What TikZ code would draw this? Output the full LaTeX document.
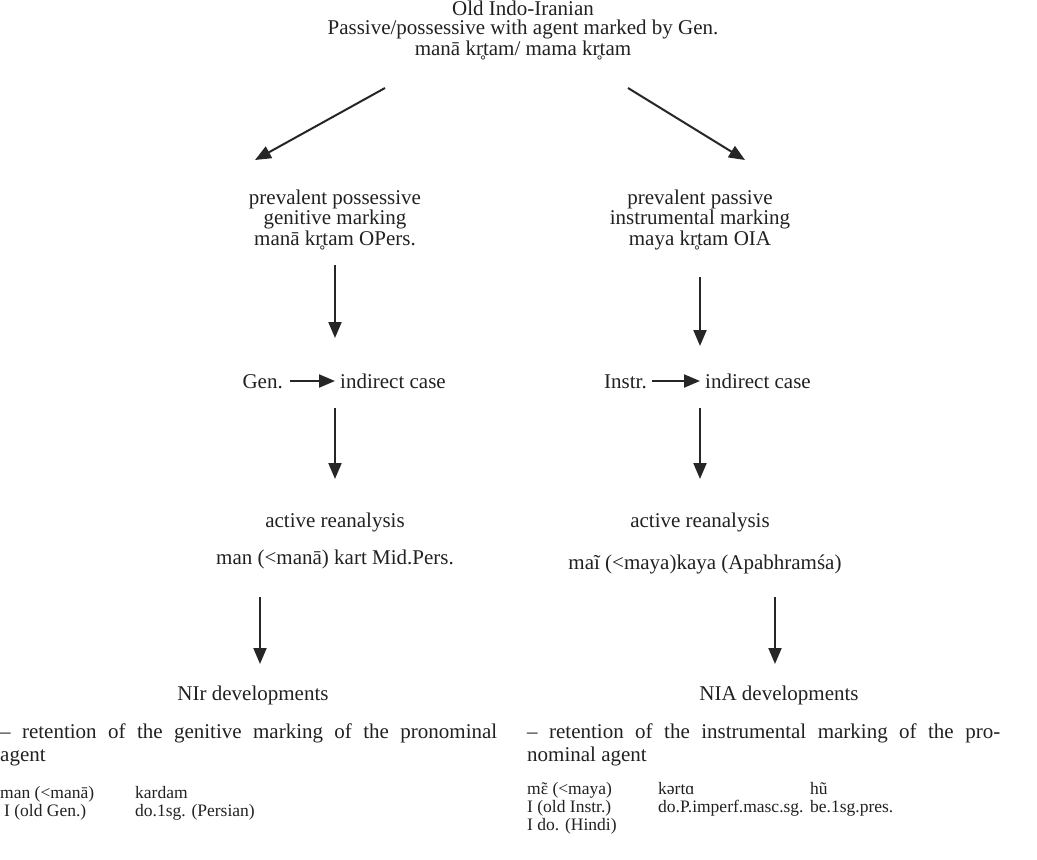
\documentclass[tikz,border=0pt]{standalone}
\usepackage{fontspec}
\setmainfont{Liberation Serif}
\usetikzlibrary{arrows.meta}
\newcommand\etilde{\leavevmode\setbox0\hbox{ɛ}\rlap{ɛ}\hbox to \wd0{\hss\raisebox{-0.5pt}{˜}\hss}}
\begin{document}
\begin{tikzpicture}[x=1pt,y=-1pt,
  txt/.style={font=\fontsize{21}{19}\selectfont, inner sep=0pt, align=center, text=black!87},
  ltxt/.style={font=\fontsize{21}{23}\selectfont, inner sep=0pt, align=left, anchor=base west, text=black!87},
  sm/.style={font=\fontsize{17.5}{17}\selectfont, inner sep=0pt, anchor=base west, text=black!87},
  arr/.style={-{Triangle[length=16pt,width=13pt]}, line width=2pt, draw=black!85}]
\useasboundingbox (0,0) rectangle (1037,860);
% top
\node[txt, anchor=base] (top) at (523,55) {Old Indo-Iranian\\Passive/possessive with agent marked by Gen.\\manā kr̥tam/ mama kr̥tam};
\node[txt, anchor=base] (pp) at (335,245) {prevalent possessive\\genitive marking\\manā kr̥tam OPers.};
\node[txt, anchor=base] (pa) at (700,245) {prevalent passive\\instrumental marking\\maya kr̥tam OIA};
% indirect case rows
\node[txt, anchor=base west] (ic1) at (340,388) {indirect case};
\node[txt, anchor=base east] (gen) at (283,388) {Gen.};
\node[txt, anchor=base west] (ic2) at (705,388) {indirect case};
\node[txt, anchor=base east] (instr) at (647,388) {Instr.};
% reanalysis
\node[txt, anchor=base] (ar1) at (335,527) {active reanalysis};
\node[txt, anchor=base] (ex1) at (335,564) {man (<manā) kart Mid.Pers.};
\node[txt, anchor=base] (ar2) at (700,527) {active reanalysis};
\node[txt, anchor=base] (ex2) at (705,569) {maĩ (<maya)kaya (Apabhramśa)};
% developments
\node[txt, anchor=base] (nir) at (253,700) {NIr developments};
\node[txt, anchor=base] (nia) at (779,700) {NIA developments};
\node[ltxt] (retL) at (0,761) {\makebox[497pt][s]{– retention of the genitive marking of the pronominal}\\agent};
\node[ltxt] (retR) at (527,761) {\makebox[473pt][s]{– retention of the instrumental marking of the pro-}\\nominal agent};
% examples left
\node[sm] (l11) at (0,798) {man (<manā)};
\node[sm] (l12) at (135,798) {kardam};
\node[sm] (l21) at (4,816) {I (old Gen.)};
\node[sm] (l22) at (135,816) {do.1sg. (Persian)};
% examples right
\node[sm] (r11) at (527,794) {m\etilde{} (<maya)};
\node[sm] (r12) at (658,794) {kərtɑ};
\node[sm] (r13) at (810,794) {hũ};
\node[sm] (r21) at (527,812) {I (old Instr.)};
\node[sm] (r22) at (658,812) {do.P.imperf.masc.sg.};
\node[sm] (r23) at (810,812) {be.1sg.pres.};
\node[sm] (r31) at (527,830) {I do. (Hindi)};
% connector coordinates
\coordinate (a1s) at (385,88);  \coordinate (a1e) at (255,160);
\coordinate (a2s) at (628,88);  \coordinate (a2e) at (745,160);
\coordinate (v1s) at (335,265); \coordinate (v1e) at (335,338);
\coordinate (v2s) at (700,277); \coordinate (v2e) at (700,346);
\coordinate (h1s) at (290,381); \coordinate (h1e) at (335,381);
\coordinate (h2s) at (652,381); \coordinate (h2e) at (700,381);
\coordinate (v3s) at (335,408); \coordinate (v3e) at (335,479);
\coordinate (v4s) at (700,408); \coordinate (v4e) at (700,479);
\coordinate (v5s) at (260,597); \coordinate (v5e) at (260,664);
\coordinate (v6s) at (775,597); \coordinate (v6e) at (775,664);
\draw[arr] (a1s) -- (a1e);
\draw[arr] (a2s) -- (a2e);
\draw[arr] (v1s) -- (v1e);
\draw[arr] (v2s) -- (v2e);
\draw[arr] (h1s) -- (h1e);
\draw[arr] (h2s) -- (h2e);
\draw[arr] (v3s) -- (v3e);
\draw[arr] (v4s) -- (v4e);
\draw[arr] (v5s) -- (v5e);
\draw[arr] (v6s) -- (v6e);
\end{tikzpicture}
\end{document}
